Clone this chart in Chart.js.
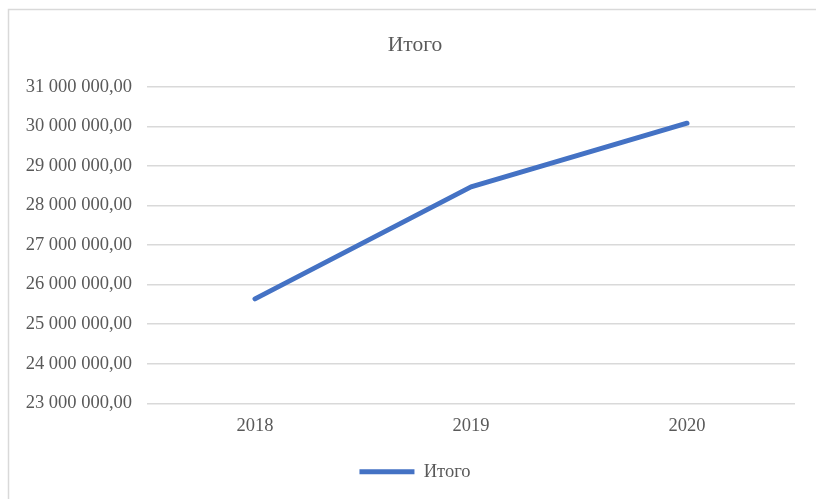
<!DOCTYPE html>
<html>
<head>
<meta charset="utf-8">
<script src="https://cdn.jsdelivr.net/npm/chart.js@4"></script>
<style>
  html, body { margin: 0; padding: 0; background: #fff; }
  #wrap { position: relative; width: 816px; height: 499px; }
</style>
</head>
<body>
<div id="wrap"><canvas id="chart" width="816" height="499"></canvas></div>
<script>
const years = ['2018', '2019', '2020'];
const totals = [25640000, 28470000, 30080000];
const seriesName = 'Итого';

const serif = "'Liberation Serif', 'Times New Roman', serif";
const gray = '#595959';

// light frame around the chart, like the office export
const frame = {
  id: 'frame',
  beforeDraw(chart) {
    const ctx = chart.ctx;
    ctx.save();
    ctx.strokeStyle = '#d9d9d9';
    ctx.lineWidth = 1.5;
    ctx.strokeRect(8.5, 9.5, 830, 520);
    ctx.restore();
  }
};

const fmt = v => v.toFixed(2).replace('.', ',').replace(/\B(?=(\d{3})+(?!\d))/g, ' ');

new Chart(document.getElementById('chart').getContext('2d'), {
  type: 'line',
  data: {
    labels: years,
    datasets: [{
      label: seriesName,
      data: totals,
      borderColor: '#4472C4',
      backgroundColor: '#4472C4',
      borderWidth: 5,
      borderCapStyle: 'round',
      borderJoinStyle: 'round',
      pointRadius: 0,
      tension: 0,
      fill: false,
    }],
  },
  options: {
    responsive: false,
    animation: false,
    layout: { padding: { left: 14, right: 0, top: 0, bottom: 8 } },
    plugins: {
      title: {
        display: true,
        text: seriesName,
        color: gray,
        font: { family: serif, size: 21.5, weight: 'normal' },
        padding: { top: 32, bottom: 29 },
      },
      legend: {
        display: true,
        position: 'bottom',
        labels: {
          color: gray,
          font: { family: serif, size: 18.5 },
          usePointStyle: true,
          pointStyle: 'line',
          pointStyleWidth: 55,
          boxWidth: 40,
          padding: 13,
        },
      },
      tooltip: { enabled: false },
    },
    scales: {
      x: {
        offset: true,
        grid: { display: false, drawTicks: false },
        border: { display: false },
        ticks: { color: gray, font: { family: serif, size: 18.5 }, padding: 12 },
      },
      y: {
        min: 23000000,
        max: 31000000,
        afterFit(scale) { scale.width = 133; },
        grid: { color: '#d9d9d9', lineWidth: 1.5, drawTicks: false },
        border: { display: false },
        ticks: {
          stepSize: 1000000,
          color: gray,
          font: { family: serif, size: 18.5 },
          padding: 15,
          callback: v => fmt(v),
        },
      },
      // empty right-hand gutter so the plot stops where the original does
      gutter: {
        type: 'linear',
        position: 'right',
        grid: { display: false, drawTicks: false },
        border: { display: false },
        ticks: { display: false },
        afterFit(scale) { scale.width = 21; },
      },
    },
  },
  plugins: [frame],
});
</script>
</body>
</html>
